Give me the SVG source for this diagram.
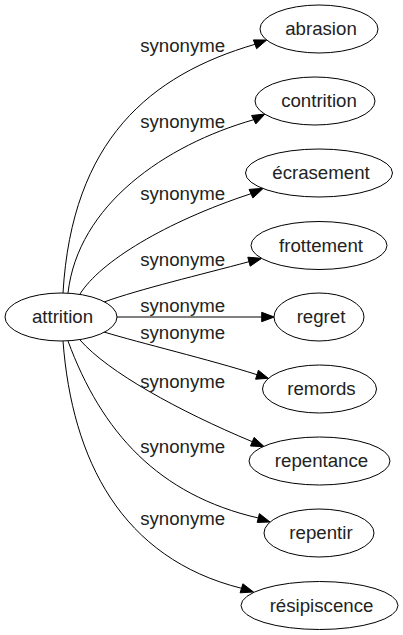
<svg xmlns="http://www.w3.org/2000/svg" width="403" height="635" viewBox="0 0 403 635">
<style>
.n ellipse{fill:#fff;stroke:#000;stroke-width:1}
text{font-family:"Liberation Sans",Arial,sans-serif;font-size:18.67px;fill:#222;text-anchor:middle}
.e path{fill:none;stroke:#000;stroke-width:1}
.e polygon{fill:#000;stroke:#000;stroke-width:1}
</style>
<rect width="403" height="635" fill="#fff"/>
<g id="edges" class="e">
<path d="M63,293 C72,140 150,75 255,44.3"/><polygon points="256.6,48.7 266.7,40 253.4,39.9"/>
<text x="182.7" y="51.7">synonyme</text>
<path d="M68,293 C78,205 165,145 253.7,119.7"/><polygon points="255.8,123.9 265,114 251.6,115.5"/>
<text x="182.7" y="128.3">synonyme</text>
<path d="M80,294 C100,262 165,222 251,193.7"/><polygon points="252.9,198 263.3,188.3 249.1,189.4"/>
<text x="182.7" y="200">synonyme</text>
<path d="M104,302 C140,289 200.7,274.7 249,261.7"/><polygon points="250.2,266.2 261.7,258.3 247.8,257.2"/>
<text x="182.7" y="266">synonyme</text>
<path d="M117,317 L261.7,317"/><polygon points="261.7,321.7 274.3,317 261.7,312.3"/>
<text x="182.7" y="311.7">synonyme</text>
<path d="M104,332 C140,343 209.4,359.5 257,374.7"/><polygon points="255.6,379.2 268.3,378.3 258.4,370.3"/>
<text x="182.7" y="339">synonyme</text>
<path d="M80,340 C108,372 178.5,410.9 252.3,441.7"/><polygon points="250.5,446 264.3,446.7 254.1,437.4"/>
<text x="182.7" y="388">synonyme</text>
<path d="M68,341 C101.5,432 158.3,495 258.3,518"/><polygon points="257.2,522.4 270,522 259.4,513.6"/>
<text x="182.7" y="453.3">synonyme</text>
<path d="M63,341 C72,460 121.5,558.3 241.5,588.3"/><polygon points="240.1,592.8 253.5,592 242.9,583.8"/>
<text x="182.7" y="525">synonyme</text>
</g>
<g id="attrition" class="n"><ellipse cx="61" cy="317" rx="56" ry="24"/><text x="62.5" y="323">attrition</text></g>
<g id="abrasion" class="n"><ellipse cx="319" cy="29" rx="59" ry="24"/><text x="321" y="35">abrasion</text></g>
<g id="contrition" class="n"><ellipse cx="315" cy="101" rx="60" ry="24"/><text x="319" y="107">contrition</text></g>
<g id="ecrasement" class="n"><ellipse cx="319" cy="173" rx="73.5" ry="24"/><text x="321" y="179">écrasement</text></g>
<g id="frottement" class="n"><ellipse cx="319" cy="245.5" rx="68" ry="24"/><text x="321" y="251.5">frottement</text></g>
<g id="regret" class="n"><ellipse cx="319" cy="317" rx="45" ry="24"/><text x="321" y="323">regret</text></g>
<g id="remords" class="n"><ellipse cx="319.5" cy="389" rx="57" ry="24"/><text x="321.5" y="395">remords</text></g>
<g id="repentance" class="n"><ellipse cx="319.5" cy="461" rx="70.5" ry="24"/><text x="321.5" y="467">repentance</text></g>
<g id="repentir" class="n"><ellipse cx="319" cy="533" rx="55" ry="24"/><text x="321" y="539">repentir</text></g>
<g id="resipiscence" class="n"><ellipse cx="319.5" cy="605.5" rx="78.5" ry="24"/><text x="321.5" y="611.5">résipiscence</text></g>
</svg>
